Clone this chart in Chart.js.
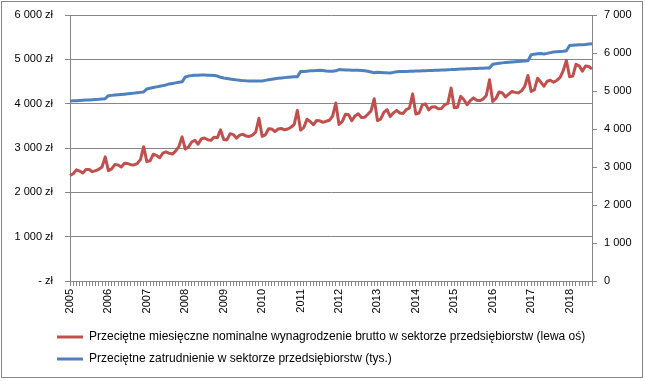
<!DOCTYPE html>
<html>
<head>
<meta charset="utf-8">
<script src="https://cdn.jsdelivr.net/npm/chart.js@4"></script>
<style>
  html, body { margin: 0; padding: 0; background: #fff; }
  #wrap { width: 645px; height: 381px; }
</style>
</head>
<body>
<div id="wrap"><canvas id="myChart" width="645" height="381"></canvas></div>
<script>
// lata na osi X (etykiety co 12 miesiecy)
var years = ["2005", "2006", "2007", "2008", "2009", "2010", "2011", "2012", "2013", "2014", "2015", "2016", "2017", "2018"];
var lastMonth = 8; // dane do sierpnia 2018

// przecietne miesieczne wynagrodzenie brutto (zl)
var wages = [
  2380, 2420, 2507, 2480, 2437, 2513, 2516, 2466, 2489, 2520, 2573, 2799,
  2489, 2529, 2627, 2619, 2573, 2654, 2648, 2624, 2619, 2650, 2739, 3030,
  2693, 2711, 2860, 2833, 2780, 2883, 2912, 2880, 2863, 2936, 3032, 3251,
  2977, 3021, 3135, 3174, 3086, 3206, 3227, 3185, 3172, 3245, 3230, 3410,
  3190, 3182, 3323, 3302, 3223, 3291, 3310, 3268, 3262, 3291, 3361, 3671,
  3264, 3296, 3433, 3428, 3369, 3428, 3440, 3410, 3429, 3468, 3530, 3848,
  3403, 3461, 3650, 3599, 3525, 3620, 3614, 3579, 3603, 3627, 3718, 4015,
  3532, 3595, 3760, 3749, 3614, 3724, 3772, 3688, 3691, 3761, 3837, 4112,
  3620, 3651, 3804, 3866, 3709, 3793, 3847, 3789, 3777, 3865, 3902, 4221,
  3768, 3789, 3971, 3996, 3860, 3926, 3928, 3886, 3893, 3973, 4007, 4354,
  3908, 3920, 4164, 4087, 3975, 4070, 4130, 4077, 4069, 4104, 4183, 4539,
  4049, 4116, 4263, 4242, 4151, 4216, 4277, 4255, 4243, 4289, 4392, 4636,
  4277, 4312, 4574, 4487, 4393, 4505, 4529, 4485, 4523, 4589, 4741, 4973,
  4608, 4621, 4887, 4852, 4732, 4850, 4839, 4785
];

// przecietne zatrudnienie (tys.)
var employment = [
  4738, 4742, 4746, 4752, 4756, 4760, 4765, 4770, 4776, 4782, 4790, 4798,
  4877, 4885, 4893, 4900, 4908, 4916, 4925, 4934, 4944, 4954, 4964, 4975,
  5054, 5072, 5090, 5108, 5125, 5142, 5160, 5186, 5200, 5214, 5228, 5242,
  5370, 5392, 5405, 5413, 5416, 5418, 5418, 5416, 5414, 5410, 5395, 5360,
  5340, 5330, 5318, 5305, 5293, 5282, 5273, 5268, 5265, 5263, 5262, 5262,
  5265, 5280, 5295, 5310, 5325, 5338, 5345, 5352, 5360, 5366, 5372, 5378,
  5510, 5515, 5522, 5530, 5536, 5541, 5544, 5542, 5528, 5518, 5520, 5530,
  5563, 5558, 5553, 5550, 5548, 5546, 5544, 5542, 5535, 5520, 5500, 5480,
  5492, 5488, 5482, 5478, 5476, 5490, 5505, 5512, 5515, 5516, 5518, 5520,
  5525, 5528, 5532, 5535, 5538, 5542, 5545, 5548, 5552, 5555, 5560, 5563,
  5568, 5572, 5576, 5580, 5584, 5588, 5590, 5593, 5597, 5600, 5603, 5606,
  5703, 5718, 5730, 5740, 5748, 5755, 5762, 5768, 5775, 5782, 5790, 5798,
  5955, 5970, 5980, 5985, 5975, 5990, 6010, 6025, 6035, 6040, 6045, 6060,
  6196, 6205, 6210, 6215, 6220, 6225, 6235, 6245
];

var seriesNames = [
  "Przeciętne miesięczne nominalne wynagrodzenie brutto w sektorze przedsiębiorstw (lewa oś)",
  "Przeciętne zatrudnienie w sektorze przedsiębiorstw (tys.)"
];

// kategorie miesieczne rrrr-mm
var months = [];
years.forEach(function (y, i) {
  var n = (i === years.length - 1) ? lastMonth : 12;
  for (var m = 1; m <= n; m++) months.push(y + "-" + (m < 10 ? "0" + m : m));
});

var gray = "#868686";
var red = "#C0504D";
var blue = "#4F81BD";

function spaced(v) {
  return String(v).replace(/\B(?=(\d{3})+(?!\d))/g, " ");
}

// szerokosc osi Y na sztywno, bez dodatkowego marginesu u gory
function fixAxis(w) {
  return function (s) {
    s.width = w;
    s.paddingTop = 0;
    s.paddingBottom = 0;
  };
}

Chart.defaults.font.family = "'Liberation Sans', Arial, sans-serif";
Chart.defaults.font.size = 11;
Chart.defaults.color = "#000";

// ramka wokol wykresu + przesuniecie legendy w prawo
var frame = {
  id: "frame",
  afterLayout: function (chart) {
    if (chart.legend) chart.legend.left = 47;
  },
  afterDraw: function (chart) {
    var ctx = chart.ctx;
    ctx.save();
    ctx.strokeStyle = gray;
    ctx.lineWidth = 1;
    ctx.strokeRect(1.5, 1.5, 641, 376);
    ctx.restore();
  }
};

new Chart("myChart", {
  type: "line",
  data: {
    labels: months,
    datasets: [{
      label: seriesNames[0],
      data: wages,
      yAxisID: "y",
      borderColor: red,
      backgroundColor: red,
      borderWidth: 3,
      pointRadius: 0,
      borderJoinStyle: "round",
      tension: 0
    }, {
      label: seriesNames[1],
      data: employment,
      yAxisID: "y2",
      borderColor: blue,
      backgroundColor: blue,
      borderWidth: 3,
      pointRadius: 0,
      borderJoinStyle: "round",
      tension: 0
    }]
  },
  options: {
    responsive: false,
    animation: false,
    layout: {padding: {left: 2, right: 0, top: 15, bottom: 6}},
    plugins: {
      tooltip: {enabled: false},
      legend: {
        position: "bottom",
        align: "start",
        labels: {
          usePointStyle: true,
          pointStyle: "line",
          pointStyleWidth: 26,
          padding: 10,
          color: "#000",
          font: {size: 12}
        }
      }
    },
    scales: {
      x: {
        type: "category",
        offset: false,
        border: {display: true, color: gray},
        grid: {display: true, drawOnChartArea: false, drawTicks: true, tickLength: 5, color: gray},
        ticks: {
          autoSkip: false,
          maxRotation: 90,
          minRotation: 90,
          padding: 3,
          callback: function (v, i) {
            var l = months[i];
            return l.slice(5) === "01" ? l.slice(0, 4) : "";
          }
        },
        afterFit: function (s) { s.height = 40; }
      },
      y: {
        position: "left",
        min: 0,
        max: 6000,
        border: {display: true, color: gray},
        grid: {color: gray, tickLength: 5},
        ticks: {
          stepSize: 1000,
          padding: 12,
          callback: function (v) { return v === 0 ? "- zł" : spaced(v) + " zł"; }
        },
        afterFit: fixAxis(68)
      },
      y2: {
        position: "right",
        min: 0,
        max: 7000,
        border: {display: true, color: gray},
        grid: {drawOnChartArea: false, color: gray, tickLength: 5},
        ticks: {
          stepSize: 1000,
          padding: 7,
          callback: function (v) { return spaced(v); }
        },
        afterFit: fixAxis(53)
      }
    }
  },
  plugins: [frame]
});
</script>
</body>
</html>
